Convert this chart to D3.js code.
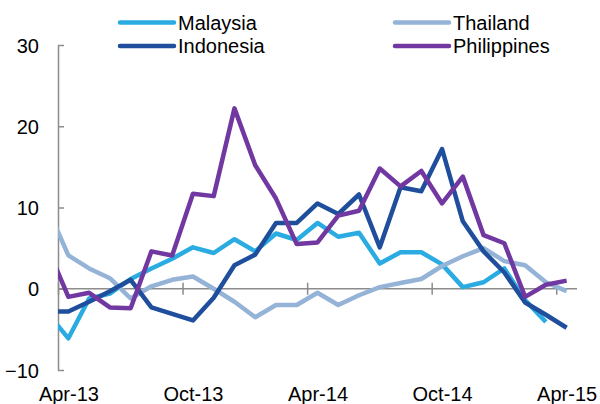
<!DOCTYPE html>
<html>
<head>
<meta charset="utf-8">
<script src="https://cdn.jsdelivr.net/npm/d3@7"></script>
<style>
  html, body { margin: 0; padding: 0; background: #fff; }
  svg { display: block; font-family: "Liberation Sans", Arial, sans-serif; }
</style>
</head>
<body>
<svg id="chart" width="600" height="404"></svg>
<script>
// Months: index 0 = Mar-13 (only partly visible, clipped at the axis), 1..25 = Apr-13..Apr-15
const months = ["Mar-13","Apr-13","May-13","Jun-13","Jul-13","Aug-13","Sep-13","Oct-13","Nov-13","Dec-13",
  "Jan-14","Feb-14","Mar-14","Apr-14","May-14","Jun-14","Jul-14","Aug-14","Sep-14","Oct-14","Nov-14","Dec-14",
  "Jan-15","Feb-15","Mar-15","Apr-15"];
const malaysia    = [-3.0, -6.1, -1.2, -0.6, 1.2, 2.5, 3.7, 5.1, 4.4, 6.1, 4.6, 6.8, 6.0, 8.1, 6.4, 6.9, 3.1, 4.5, 4.5, 3.0, 0.2, 0.8, 2.5, -1.4, -4.1, null];
const thailand    = [9.9, 4.1, 2.5, 1.3, -1.2, 0.3, 1.1, 1.5, 0.0, -1.6, -3.5, -2.0, -2.0, -0.5, -2.0, -0.8, 0.2, 0.7, 1.2, 2.8, 4.0, 5.0, 3.4, 2.9, 0.8, -0.3];
const indonesia   = [-2.8, -2.8, -1.6, -0.3, 1.1, -2.3, -3.1, -3.9, -1.1, 2.9, 4.2, 8.1, 8.1, 10.5, 9.2, 11.6, 5.1, 12.5, 12.0, 17.2, 8.3, 4.6, 2.0, -1.7, -3.2, -4.8];
const philippines = [5.0, -1.0, -0.5, -2.3, -2.4, 4.6, 4.1, 11.7, 11.4, 22.2, 15.2, 11.1, 5.5, 5.7, 9.0, 9.6, 14.8, 12.6, 14.5, 10.5, 13.8, 6.6, 5.6, -1.0, 0.5, 1.0];

const seriesNames  = ["Malaysia", "Thailand", "Indonesia", "Philippines"];
const seriesValues = [malaysia, thailand, indonesia, philippines];
const seriesColors = ["#2AACE2", "#95B3D7", "#1F4E9C", "#7038A0"];

const xTickLabels = ["Apr-13", "Oct-13", "Apr-14", "Oct-14", "Apr-15"];
const xTickMonths = [0, 6, 12, 18, 24];          // months after Apr-13
const yTicks = [-10, 0, 10, 20, 30];

const svg = d3.select("#chart");
const plotLeft = 58, plotRight = 577, plotTop = 45, plotBottom = 370;

// x: months since start of Apr-13
const x = d3.scaleLinear().domain([0, 25]).range([plotLeft, plotRight]);
const y = d3.scaleLinear().domain([-10, 30]).range([plotBottom, plotTop]);
const xPos = (k) => x(k - 1 + 0.5);   // data index -> mid-month position

const axisColor = "#8C8C8C";
const fontSize = 20;
const fontFam = '"Liberation Sans", Arial, sans-serif';

// clip
svg.append("defs").append("clipPath").attr("id", "plot")
  .append("rect").attr("x", plotLeft).attr("y", 0).attr("width", plotRight - plotLeft).attr("height", 404);

// Y axis
const yAxis = d3.axisLeft(y).tickValues(yTicks).tickSizeInner(-6).tickSizeOuter(0).tickPadding(19)
  .tickFormat(d3.format("d"));
const gy = svg.append("g").attr("transform", `translate(${plotLeft},0)`).call(yAxis);
gy.select(".domain").attr("stroke", axisColor).attr("stroke-width", 1.5);
gy.selectAll(".tick line").attr("stroke", axisColor).attr("stroke-width", 1.5);
gy.selectAll(".tick text").attr("fill", "#000").attr("font-size", fontSize)
  .attr("font-family", fontFam).attr("dy", "0.35em");

// X axis at y = 0
const xAxis = d3.axisBottom(x).tickValues(xTickMonths).tickSizeOuter(0)
  .tickFormat((d, i) => xTickLabels[i]);
const gx = svg.append("g").attr("transform", `translate(0,${y(0)})`).call(xAxis);
gx.select(".domain").attr("stroke", axisColor).attr("stroke-width", 1.5)
  .attr("d", `M${plotLeft},0H${plotRight}`);
gx.selectAll(".tick line").attr("stroke", axisColor).attr("stroke-width", 1.5)
  .attr("y1", -6).attr("y2", 6);
gx.selectAll(".tick text").attr("fill", "#000").attr("font-size", fontSize)
  .attr("font-family", fontFam)
  .attr("x", x(0.5) - x(0)).attr("y", 401 - y(0)).attr("dy", 0);

// Lines
const line = d3.line()
  .defined(d => d != null)
  .x((d, i) => xPos(i))
  .y(d => y(d));

const gLines = svg.append("g").attr("clip-path", "url(#plot)");
seriesValues.forEach((vals, s) => {
  gLines.append("path")
    .datum(vals)
    .attr("fill", "none")
    .attr("stroke", seriesColors[s])
    .attr("stroke-width", 4.5)
    .attr("stroke-linejoin", "round")
    .attr("d", line);
});

// Legend (2 x 2, row-major)
const legX = [120, 395];
const legY = [22.5, 46];
seriesNames.forEach((name, s) => {
  const col = s % 2, row = Math.floor(s / 2);
  const g = svg.append("g").attr("transform", `translate(${legX[col]},${legY[row]})`);
  g.append("line").attr("x1", 0).attr("x2", 54).attr("y1", 0).attr("y2", 0)
    .attr("stroke", seriesColors[s]).attr("stroke-width", 4.5).attr("stroke-linecap", "round");
  g.append("text").attr("x", 58).attr("y", 0).attr("dy", "0.35em")
    .attr("font-size", fontSize).attr("font-family", fontFam).attr("fill", "#000").text(name);
});
</script>
</body>
</html>
